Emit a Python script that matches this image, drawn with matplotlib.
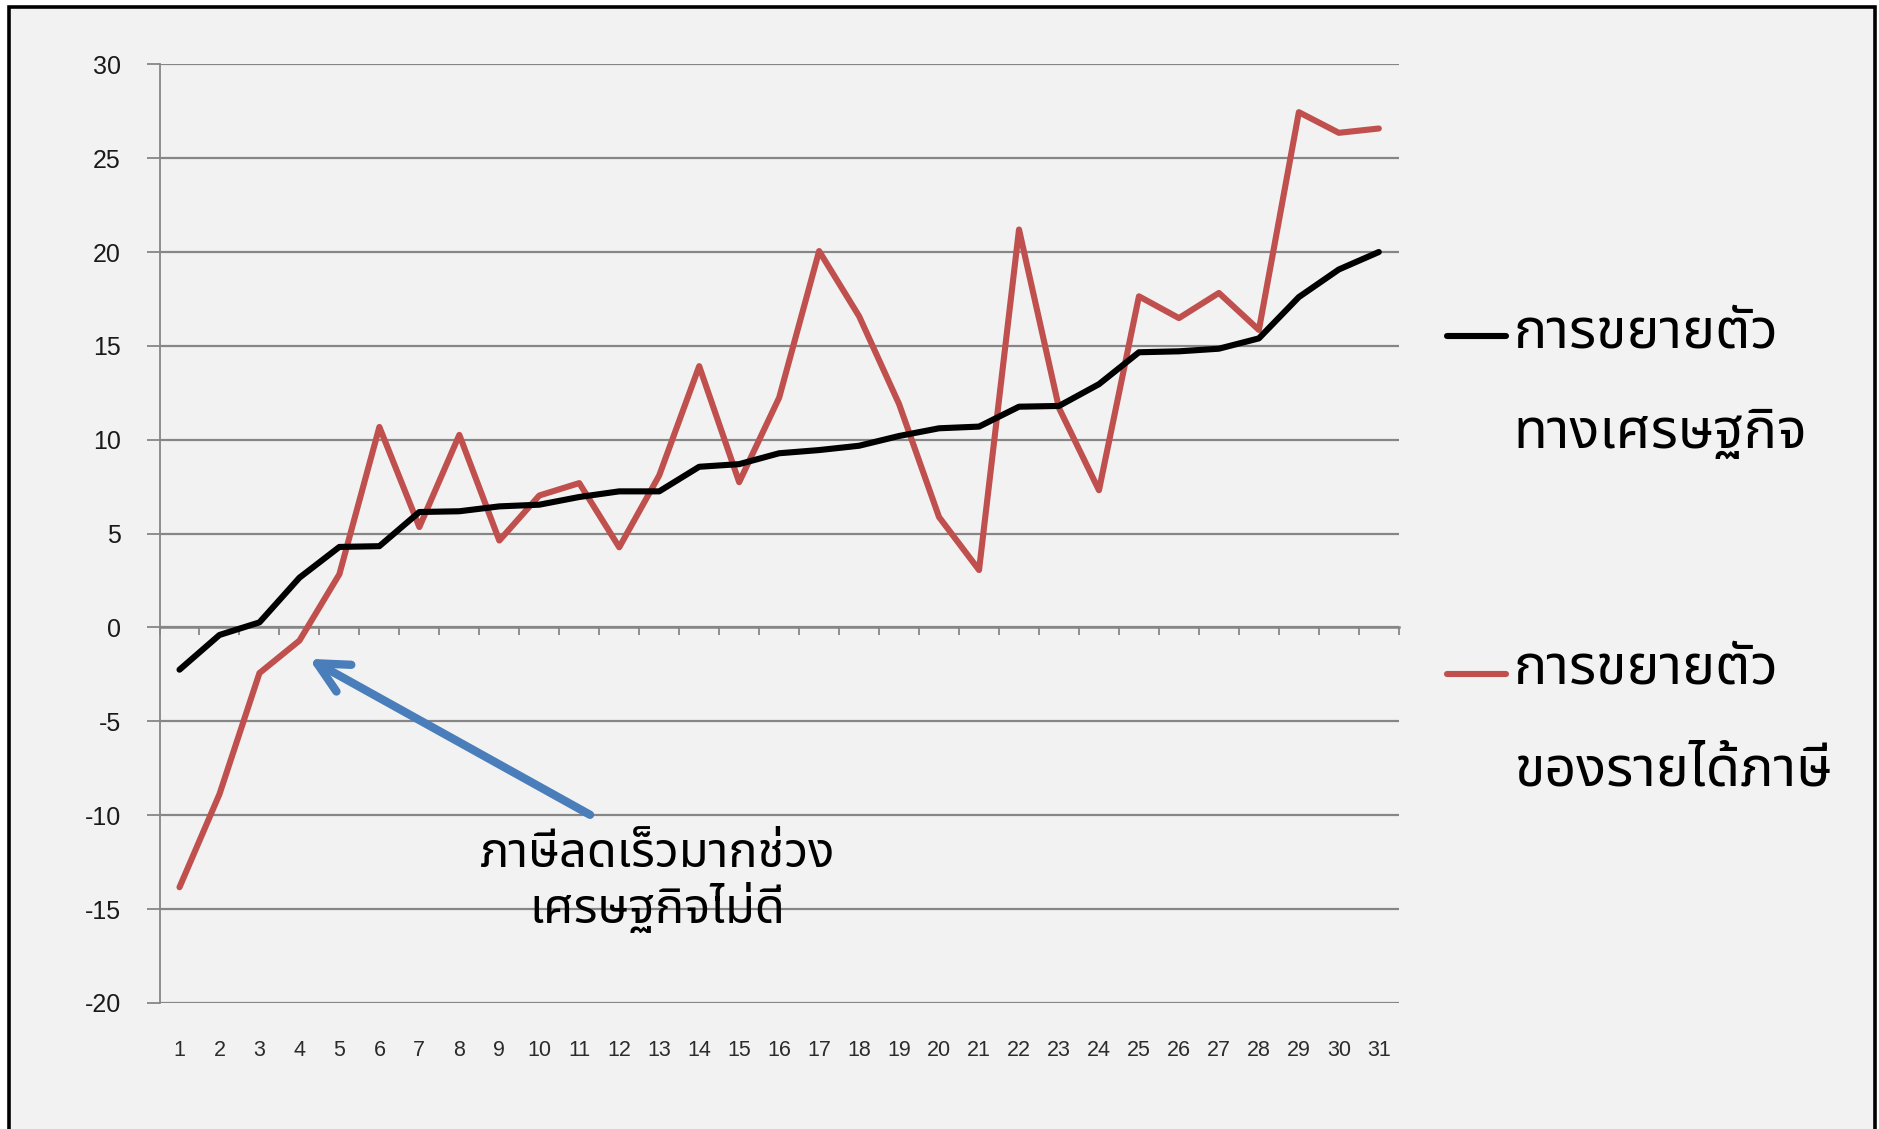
import matplotlib
matplotlib.use("Agg")
import matplotlib.pyplot as plt
from matplotlib import font_manager
from matplotlib.ft2font import FT2Font
from matplotlib.lines import Line2D
from matplotlib.patches import Rectangle
import numpy as np

# ---- data -------------------------------------------------------------
periods = list(range(1, 32))
economic_growth = [-2.25, -0.40, 0.27, 2.65, 4.29, 4.33, 6.15, 6.19, 6.45, 6.54,
                   6.95, 7.25, 7.25, 8.56, 8.70, 9.28, 9.45, 9.68, 10.20, 10.61,
                   10.70, 11.76, 11.80, 12.96, 14.66, 14.71, 14.85, 15.40, 17.60,
                   19.07, 20.00]
tax_revenue_growth = [-13.84, -8.88, -2.43, -0.70, 2.84, 10.68, 5.35, 10.26, 4.63,
                      7.03, 7.69, 4.27, 8.10, 13.92, 7.74, 12.24, 20.05, 16.58,
                      11.90, 5.88, 3.06, 21.20, 11.69, 7.31, 17.64, 16.48, 17.82,
                      15.85, 27.45, 26.35, 26.58]
y_ticks = [-20, -15, -10, -5, 0, 5, 10, 15, 20, 25, 30]
legend_labels = [["การขยายตัว", "ทางเศรษฐกิจ"], ["การขยายตัว", "ของรายได้ภาษี"]]
note_lines = ["ภาษีลดเร็วมากช่วง", "เศรษฐกิจไม่ดี"]


def find_thai_font():
    preferred = ["Noto Sans Thai", "Noto Sans Thai UI", "Noto Sans Thai Looped",
                 "Loma", "Garuda", "Norasi", "Sawasdee", "Kinnari", "Laksaman",
                 "TH Sarabun New", "Tlwg Typo"]
    found = {}
    for entry in font_manager.fontManager.ttflist:
        try:
            cmap = FT2Font(entry.fname).get_charmap()
        except Exception:
            continue
        if 0x0E01 in cmap and 0x0E29 in cmap:
            found.setdefault(entry.name, entry.fname)
    for name in preferred:
        if name in found:
            return name
    if found:
        return sorted(found)[0]
    return None


thai_font = find_thai_font()
thai_family = [thai_font, "DejaVu Sans"] if thai_font else ["DejaVu Sans"]

W, H = 1879, 1129
fig = plt.figure(figsize=(W / 100, H / 100), dpi=100, facecolor="white")

# chart area panel with a black frame
fig.add_artist(Rectangle((9 / W, -0.02), (1875 - 9) / W, 1.02 - 7 / H,
                         transform=fig.transFigure, facecolor="#F2F2F2",
                         edgecolor="black", linewidth=2.6, zorder=-5))

ax = fig.add_axes([159.5 / W, 1 - 1002.9 / H, (1398.8 - 159.5) / W,
                   (1002.9 - 64.3) / H])
ax.set_facecolor("none")

grid_c = "#868686"
series_lw = 4.4
line_black, = ax.plot(periods, economic_growth, color="black", lw=series_lw,
                      solid_joinstyle="round", solid_capstyle="round", zorder=4)
line_red, = ax.plot(periods, tax_revenue_growth, color="#C0504D", lw=series_lw,
                    solid_joinstyle="round", solid_capstyle="round", zorder=3)

ax.set_xlim(0.5, 31.5)
ax.set_ylim(-20, 30)
ax.set_yticks(y_ticks)
ax.set_yticklabels([str(v) for v in y_ticks], fontfamily="Liberation Sans",
                   fontsize=18, color="#1a1a1a")
ax.yaxis.grid(True, color=grid_c, lw=1.6)
ax.tick_params(axis="y", length=9.4, width=1.3, color=grid_c, pad=18.4)

ax.set_xticks(periods)
ax.set_xticklabels([str(p) for p in periods], fontfamily="Liberation Sans",
                   fontsize=15.5, color="#2b2b2b")
ax.tick_params(axis="x", length=0, pad=27)

for side in ["top", "right", "bottom"]:
    ax.spines[side].set_visible(False)
ax.spines["left"].set_color(grid_c)
ax.spines["left"].set_linewidth(1.3)

# horizontal category axis crossing at zero, with ticks between categories
zero_axis = ax.secondary_xaxis((0 - (-20)) / 50)
zero_axis.spines["bottom"].set_color(grid_c)
zero_axis.spines["bottom"].set_linewidth(1.8)
zero_axis.set_xticks(np.arange(0.5, 32, 1.0))
zero_axis.tick_params(axis="x", direction="out", length=6, width=1.3,
                      color=grid_c, labelbottom=False)
ax.set_axisbelow(True)

# annotation arrow and note
ax.annotate("", xy=(4.24, -1.67), xytext=(11.27, -9.98),
            arrowprops=dict(arrowstyle="->,head_length=1.1,head_width=0.55",
                            mutation_scale=20, color="#4A7EBB", lw=6,
                            capstyle="round", joinstyle="round",
                            shrinkA=0, shrinkB=0),
            zorder=5)
for line, ypix in zip(note_lines, [867, 923]):
    fig.text(657 / W, 1 - ypix / H, line, ha="center", va="baseline",
             fontsize=35, family=thai_family, color="black", zorder=6)

# legend entries drawn beside the plot
legend_rows = [(line_black, 336, [347, 448], legend_labels[0]),
               (line_red, 674, [684, 786], legend_labels[1])]
for handle, ypix, baselines, label_lines in legend_rows:
    fig.add_artist(Line2D([1446.5 / W, 1505.8 / W], [1 - ypix / H, 1 - ypix / H],
                          transform=fig.transFigure, color=handle.get_color(),
                          lw=series_lw, solid_capstyle="round"))
    for text, base in zip(label_lines, baselines):
        fig.text(1513.6 / W, 1 - base / H, text, ha="left", va="baseline",
                 fontsize=40, family=thai_family, color="black")

fig.savefig("out.png", dpi=100, facecolor="white")
